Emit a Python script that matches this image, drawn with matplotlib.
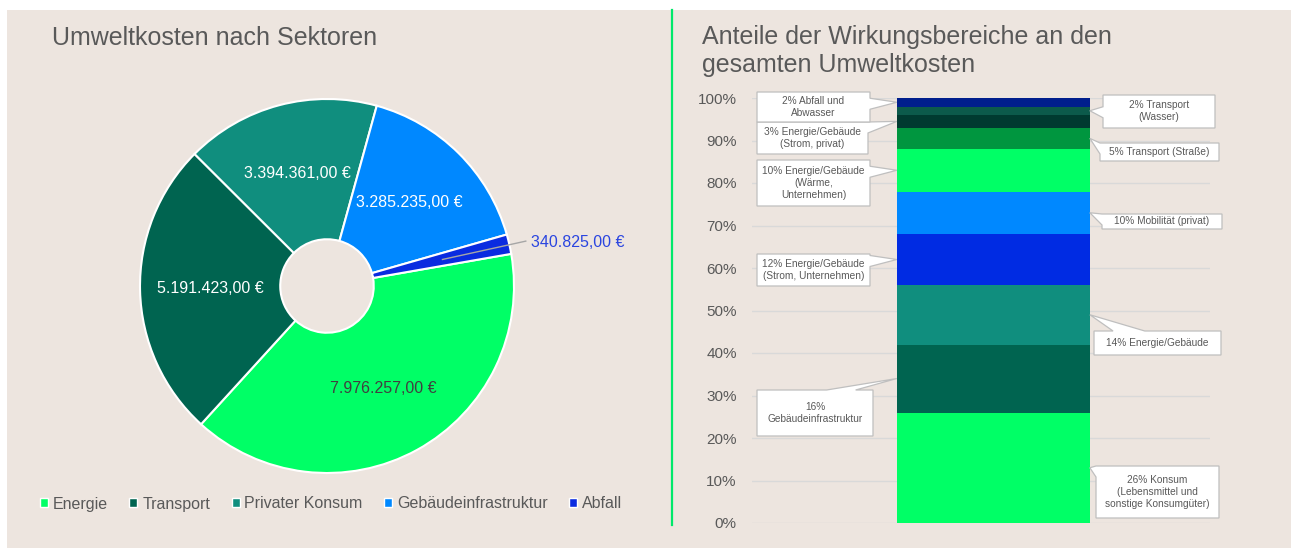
import numpy as np
import matplotlib
matplotlib.use("Agg")
import matplotlib.pyplot as plt
from matplotlib.patches import Rectangle, Polygon, Patch
from matplotlib.lines import Line2D

plt.rcParams['font.family'] = ['Liberation Sans', 'DejaVu Sans']

# ---------------- data ----------------
pie_title = "Umweltkosten nach Sektoren"
sectors = ["Energie", "Transport", "Privater Konsum", "Gebäudeinfrastruktur", "Abfall"]
sector_costs = [7976257.00, 5191423.00, 3394361.00, 3285235.00, 340825.00]

bar_title = "Anteile der Wirkungsbereiche an den\ngesamten Umweltkosten"
impact_areas = [
    "Konsum\n(Lebensmittel und\nsonstige Konsumgüter)",
    "\nGebäudeinfrastruktur",
    "Energie/Gebäude",
    "Energie/Gebäude\n(Strom, Unternehmen)",
    "Mobilität (privat)",
    "Energie/Gebäude\n(Wärme,\nUnternehmen)",
    "Transport (Straße)",
    "Energie/Gebäude\n(Strom, privat)",
    "Transport\n(Wasser)",
    "Abfall und\nAbwasser",
]
impact_shares = [26, 16, 14, 12, 10, 10, 5, 3, 2, 2]
y_ticks = [0, 10, 20, 30, 40, 50, 60, 70, 80, 90, 100]
y_tick_labels = ["0%", "10%", "20%", "30%", "40%", "50%", "60%", "70%", "80%", "90%", "100%"]

# ---------------- style ----------------
W, H = 1291, 548
BG = "#EDE5DF"
TXT = "#595959"
GRID = "#D9D9D9"
pie_colors = ["#00FF66", "#006450", "#108E7E", "#0088FF", "#0A2BE0"]
pie_text_colors = ["#404040", "white", "white", "white", "#2A45E0"]
bar_colors = ["#00FF66", "#006450", "#108E7E", "#002BE3", "#0088FF",
              "#00FF66", "#00963F", "#003A30", "#0C5A4B", "#001E8C"]
# callout boxes in pixel coordinates (x0, y0, x1, y1), y from top
callout_boxes = [
    (1096, 466, 1219, 518),
    (757, 390, 873, 436),
    (1094, 331, 1221, 355),
    (757, 254, 870, 286),
    (1102, 214, 1222, 229),
    (757, 160, 870, 206),
    (1100, 143, 1219, 161),
    (757, 122, 868, 154),
    (1103, 95, 1215, 128),
    (757, 92, 870, 122),
]


def fbox(x0, y0, x1, y1):
    return [x0 / W, 1 - y1 / H, (x1 - x0) / W, (y1 - y0) / H]


def de_eur(v):
    s = f"{v:,.2f}".replace(",", "X").replace(".", ",").replace("X", ".")
    return s + " €"


fig = plt.figure(figsize=(W / 100, H / 100), dpi=100, facecolor="white")
fig.add_artist(Rectangle((7 / W, 0), (W - 7) / W, (H - 10) / H,
                         transform=fig.transFigure, fc=BG, ec="none", zorder=-10))
fig.add_artist(Line2D([672 / W, 672 / W], [1 - 10 / H, 1 - 525 / H],
                      transform=fig.transFigure, color="#00E86A", lw=1.6))

# ---------------- titles ----------------
fig.text(52 / W, 1 - 45 / H, pie_title, fontsize=18, color=TXT, va="baseline", ha="left")
for i, line in enumerate(bar_title.split("\n")):
    fig.text(702 / W, 1 - (44 + 28 * i) / H, line, fontsize=18, color=TXT,
             va="baseline", ha="left")

# ---------------- donut ----------------
R, cx, cy, k = 187, 327, 286, 1.4
axp = fig.add_axes(fbox(cx - R * k, cy - R * k, cx + R * k, cy + R * k))
wedges, _ = axp.pie(sector_costs, colors=pie_colors, startangle=9.9, counterclock=False,
                    radius=1, wedgeprops=dict(width=0.75, edgecolor="white", linewidth=1.5))
axp.set_xlim(-k, k)
axp.set_ylim(-k, k)
axp.set_aspect("equal")
axp.axis("off")
for i, w in enumerate(wedges):
    t = np.deg2rad((w.theta1 + w.theta2) / 2)
    label = de_eur(sector_costs[i])
    if i < 4:
        axp.text(0.625 * np.cos(t), 0.625 * np.sin(t), label, ha="center", va="center",
                 fontsize=11.5, color=pie_text_colors[i])
    else:
        tx, ty = 1.12 * np.cos(t), 1.12 * np.sin(t) - 0.018
        axp.plot([0.63 * np.cos(t), tx - 0.025], [0.63 * np.sin(t), ty + 0.008],
                 color="#A6A6A6", lw=1, solid_capstyle="butt")
        axp.text(tx, ty, label, ha="left", va="center", fontsize=11.5,
                 color=pie_text_colors[i])

handles = [Patch(facecolor=c, edgecolor="white", linewidth=1) for c in pie_colors]
fig.legend(handles, sectors, loc="center left", bbox_to_anchor=(40 / W, 1 - 504 / H),
           ncol=5, frameon=False, fontsize=11.5, handlelength=0.5, handleheight=0.5,
           handletextpad=0.3, columnspacing=1.35, borderpad=0, borderaxespad=0,
           labelcolor=TXT)

# ---------------- stacked bar ----------------
axb = fig.add_axes(fbox(752, 98, 1210, 523))
axb.set_facecolor("none")
bar_x, bar_w = 0.527, 0.4214
bottoms = np.concatenate([[0], np.cumsum(impact_shares)[:-1]])
axb.bar([bar_x] * len(impact_shares), impact_shares, bottom=bottoms, width=bar_w,
        color=bar_colors, zorder=3, linewidth=0)
axb.set_xlim(0, 1)
axb.set_ylim(0, 100)
axb.set_yticks(y_ticks)
axb.set_yticklabels(y_tick_labels)
axb.set_xticks([])
axb.yaxis.grid(True, color=GRID, lw=1)
axb.set_axisbelow(True)
for s in axb.spines.values():
    s.set_visible(False)
axb.tick_params(axis="y", length=0, pad=11, labelsize=11, labelcolor=TXT)

# overlay for callouts, in pixel coordinates
ov = fig.add_axes([0, 0, 1, 1], zorder=5)
ov.set_xlim(0, W)
ov.set_ylim(H, 0)
ov.axis("off")
to_ov = ov.transData.inverted()

for i, (share, area) in enumerate(zip(impact_shares, impact_areas)):
    mid = bottoms[i] + share / 2
    right_side = (i % 2 == 0)
    xe = bar_x + bar_w / 2 if right_side else bar_x - bar_w / 2
    tip = to_ov.transform(axb.transData.transform((xe, mid)))
    tx, ty = tip
    x0, y0, x1, y1 = callout_boxes[i]
    w = x1 - x0
    if y0 - 6 <= ty <= y1:
        b0 = max(y0, ty - 4)
        b1 = min(y1, b0 + 11)
        if right_side:
            pts = [(x0, y0), (x1, y0), (x1, y1), (x0, y1), (x0, b1), (tx, ty), (x0, b0)]
        else:
            pts = [(x0, y0), (x1, y0), (x1, b0), (tx, ty), (x1, b1), (x1, y1), (x0, y1)]
    else:
        if right_side:
            a0, a1 = x0 + 0.15 * w, x0 + 0.4 * w
        else:
            a0, a1 = x1 - 0.4 * w, x1 - 0.15 * w
        pts = [(x0, y0), (a0, y0), (tx, ty), (a1, y0), (x1, y0), (x1, y1), (x0, y1)]
    ov.add_patch(Polygon(pts, closed=True, fc="white", ec="#BFBFBF", lw=0.9, zorder=6))
    label = f"{share}%" + ("" if area.startswith("\n") else " ") + area
    ov.text((x0 + x1) / 2, (y0 + y1) / 2, label, ha="center", va="center",
            fontsize=7.3, color=TXT, zorder=7, linespacing=1.25)

fig.savefig("out.png", dpi=100, facecolor="white")
